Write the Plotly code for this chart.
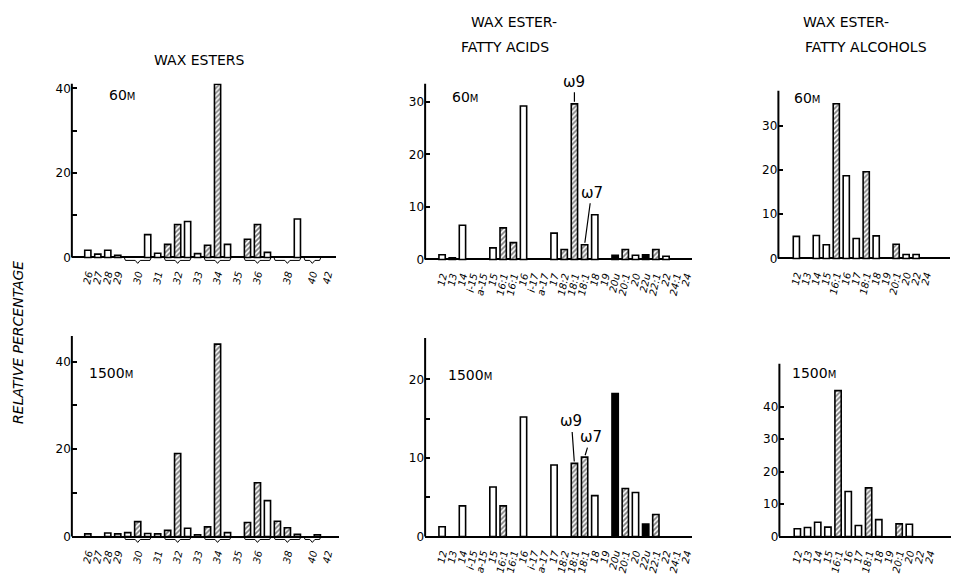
import plotly.graph_objects as go

W, H = 972, 574
FONT = "DejaVu Sans"

# ---------------- data ----------------
# Wax esters (carbon number, isomer slots within a group)
we_slots = ["26", "27", "28", "29", "30", "30", "30", "31", "32", "32", "32", "33",
            "34", "34", "34", "35", "36", "36", "36", "38", "38", "38", "40", "40", "42"]
we_kind = ["o", "o", "o", "o", "o", "h", "o", "o", "h", "h", "o", "o",
           "h", "h", "o", "o", "h", "h", "o", "h", "h", "o", "o", "o", "o"]
we_60 = [1.7, 0.8, 1.7, 0.5, None, None, 5.4, 1.0, 3.1, 7.8, 8.5, 0.9,
         2.9, 41.0, 3.1, None, 4.3, 7.8, 1.2, None, None, 9.1, None, None, None]
we_1500 = [0.6, None, 0.8, 0.6, 0.9, 3.4, 0.7, 0.6, 1.4, 19.0, 1.9, 0.4,
           2.2, 44.0, 0.9, None, 3.2, 12.3, 8.2, 3.5, 2.0, 0.5, None, 0.4, None]

# Wax ester fatty acids
fa_slots = ["12", "13", "14", "i-15", "a-15", "15", "16:1", "16:1", "16", "i-17", "a-17", "17",
            "18:2", "18:1", "18:1", "18", "19", "20u", "20:1", "20", "22u", "22:1", "22", "24:1", "24"]
fa_kind = ["o", "o", "o", "o", "o", "o", "h", "h", "o", "o", "o", "o",
           "h", "h", "h", "o", "o", "s", "h", "o", "s", "h", "o", "h", "o"]
fa_60 = [0.9, 0.3, 6.5, None, None, 2.2, 6.0, 3.2, 29.2, None, None, 5.0,
         1.9, 29.6, 2.8, 8.5, None, 0.8, 1.9, 0.8, 0.9, 1.9, 0.6, None, None]
fa_1500 = [1.25, None, 3.9, None, None, 6.3, 3.9, None, 15.2, None, None, 9.1,
           None, 9.3, 10.1, 5.2, None, 18.2, 6.1, 5.6, 1.6, 2.8, None, None, None]

# Wax ester fatty alcohols
fal_slots = ["12", "13", "14", "15", "16:1", "16", "17", "18:1", "18", "19", "20:1", "20", "22", "24"]
fal_kind = ["o", "o", "o", "o", "h", "o", "o", "h", "o", "o", "h", "o", "o", "o"]
fal_60 = [5.0, None, 5.2, 3.1, 35.0, 18.7, 4.5, 19.6, 5.1, None, 3.2, 0.9, 0.9, None]
fal_1500 = [2.4, 2.8, 4.4, 2.9, 45.0, 13.9, 3.4, 15.0, 5.2, None, 3.9, 3.8, None, None]

# y tick definitions (value, label)
yt_we = ([0, 10, 20, 30, 40], ["0", "", "20", "", "40"])
yt_fa60 = ([0, 10, 20, 30], ["0", "10", "20", "30"])
yt_fa1500 = ([0, 5, 10, 15, 20], ["0", "", "10", "", "20"])
yt_fal60 = ([0, 10, 20, 30], ["0", "10", "20", "30"])
yt_fal1500 = ([0, 10, 20, 30, 40], ["0", "10", "20", "30", "40"])

# ---------------- panel geometry (pixels) ----------------
panels = [
    dict(slots=we_slots, kind=we_kind, vals=we_60, yt=yt_we, label="60", ax=72, x0=88, dx=10,
         xe=337, base=260, ppu=4.3, top=83, brace=True, lab=(107, 95)),
    dict(slots=we_slots, kind=we_kind, vals=we_1500, yt=yt_we, label="1500", ax=72, x0=88, dx=10,
         xe=340, base=544, ppu=4.45, top=340, brace=True, lab=(87, 378)),
    dict(slots=fa_slots, kind=fa_kind, vals=fa_60, yt=yt_fa60, label="60", ax=426, x0=443, dx=10.2,
         xe=693, base=262, ppu=5.35, top=83, brace=False, lab=(451, 97)),
    dict(slots=fa_slots, kind=fa_kind, vals=fa_1500, yt=yt_fa1500, label="1500", ax=426, x0=443, dx=10.2,
         xe=693, base=544, ppu=8.0, top=342, brace=False, lab=(447, 380)),
    dict(slots=fal_slots, kind=fal_kind, vals=fal_60, yt=yt_fal60, label="60", ax=780, x0=798, dx=10,
         xe=952, base=261, ppu=4.5, top=90, brace=False, lab=(794, 98)),
    dict(slots=fal_slots, kind=fal_kind, vals=fal_1500, yt=yt_fal1500, label="1500", ax=781, x0=799, dx=10.2,
         xe=953, base=544, ppu=3.3, top=368, brace=False, lab=(792, 378)),
]

PAD = 8  # px below the baseline inside plot area (for braces)

fig = go.Figure()
layout = dict(
    width=W, height=H, margin=dict(l=0, r=0, t=0, b=0),
    paper_bgcolor="white", plot_bgcolor="white", showlegend=False,
    barmode="overlay", font=dict(family=FONT, color="black"),
)
shapes = []
annotations = []

styles = {
    "o": dict(color="white", line=dict(color="black", width=1.6)),
    "h": dict(color="white", line=dict(color="black", width=1.6),
              pattern=dict(shape="/", fgcolor="black", bgcolor="white", size=3.5, solidity=0.5)),
    "s": dict(color="black", line=dict(color="black", width=1.6)),
}

for i, p in enumerate(panels):
    n = i + 1
    xa = "x" if n == 1 else f"x{n}"
    ya = "y" if n == 1 else f"y{n}"
    xkey = "xaxis" if n == 1 else f"xaxis{n}"
    ykey = "yaxis" if n == 1 else f"yaxis{n}"
    idx = list(range(len(p["slots"])))

    for k in ["o", "h", "s"]:
        yv = [v if kk == k else None for v, kk in zip(p["vals"], p["kind"])]
        if all(v is None for v in yv):
            continue
        fig.add_trace(go.Bar(x=idx, y=yv, width=0.62, marker=styles[k],
                             xaxis=xa, yaxis=ya, hoverinfo="skip"))

    if p["brace"]:
        tv, tt = [], []
        for lab in dict.fromkeys(p["slots"]):
            pos = [j for j, s in enumerate(p["slots"]) if s == lab]
            tv.append(sum(pos) / len(pos))
            tt.append(lab)
    else:
        tv, tt = idx, p["slots"]

    xr = [(p["ax"] - p["x0"]) / p["dx"], (p["xe"] - p["x0"]) / p["dx"]]
    yr = [-PAD / p["ppu"], (p["base"] - p["top"]) / p["ppu"]]
    layout[xkey] = dict(domain=[p["ax"] / W, p["xe"] / W], range=xr, anchor=ya,
                        showline=False, showgrid=False, zeroline=False, ticks="",
                        tickmode="array", tickvals=tv, ticktext=tt, tickangle=-78,
                        tickfont=dict(family=FONT, size=10, style="italic", color="black"),
                        fixedrange=True)
    layout[ykey] = dict(domain=[1 - (p["base"] + PAD) / H, 1 - p["top"] / H], range=yr, anchor=xa,
                        showline=False, showgrid=False, zeroline=True, zerolinecolor="black",
                        zerolinewidth=2, ticks="inside", ticklen=5, tickwidth=1.5, tickcolor="black",
                        tickmode="array", tickvals=p["yt"][0], ticktext=p["yt"][1],
                        tickfont=dict(family=FONT, size=12, color="black"), fixedrange=True)
    shapes.append(dict(type="line", xref="paper", yref=ya, x0=p["ax"] / W, x1=p["ax"] / W,
                       y0=0, y1=yr[1], line=dict(color="black", width=2)))

    if p["brace"]:
        d1 = 3 / p["ppu"]
        d2 = 6 / p["ppu"]
        for lab in dict.fromkeys(p["slots"]):
            pos = [j for j, s in enumerate(p["slots"]) if s == lab]
            if len(pos) < 2:
                continue
            a, b = pos[0] - 0.35, pos[-1] + 0.35
            m = (a + b) / 2
            fig.add_trace(go.Scatter(
                x=[a, a + 0.12, m - 0.25, m, m + 0.25, b - 0.12, b],
                y=[0, -d1, -d1, -d2, -d1, -d1, 0],
                mode="lines", line=dict(color="black", width=1),
                xaxis=xa, yaxis=ya, hoverinfo="skip"))

    annotations.append(dict(
        xref="paper", yref="paper", x=p["lab"][0] / W, y=1 - p["lab"][1] / H,
        xanchor="left", yanchor="middle", showarrow=False,
        text=p["label"] + "<span style='font-size:10px'>M</span>",
        font=dict(family=FONT, size=14, color="black")))

# omega labels on fatty-acid panels
om = [
    ("x3", "y3", 13, fa_60[13], "\u03c99", 0, -22),
    ("x3", "y3", 14, fa_60[14], "\u03c97", 7, -52),
    ("x4", "y4", 13, fa_1500[13], "\u03c99", -3, -42),
    ("x4", "y4", 14, fa_1500[14], "\u03c97", 6, -20),
]
for xa, ya, xi, yv, txt, axo, ayo in om:
    annotations.append(dict(xref=xa, yref=ya, x=xi, y=yv, text=txt, showarrow=True,
                            arrowhead=0, arrowwidth=1.2, arrowcolor="black", ax=axo, ay=ayo,
                            standoff=2, font=dict(family=FONT, size=15, color="black")))

# column titles
titles = [
    ("WAX ESTERS", 200, 59),
    ("WAX ESTER-", 515, 20),
    ("FATTY ACIDS", 506, 46),
    ("WAX ESTER-", 848, 20),
    ("FATTY ALCOHOLS", 868, 46),
]
for t, x, y in titles:
    annotations.append(dict(xref="paper", yref="paper", x=x / W, y=1 - y / H, text=t,
                            showarrow=False, xanchor="center", yanchor="middle",
                            font=dict(family=FONT, size=14, color="black")))

annotations.append(dict(xref="paper", yref="paper", x=18 / W, y=1 - 346 / H,
                        text="RELATIVE PERCENTAGE", textangle=-90, showarrow=False,
                        xanchor="center", yanchor="middle",
                        font=dict(family=FONT, size=14, style="italic", color="black")))

layout["shapes"] = shapes
layout["annotations"] = annotations
fig.update_layout(**layout)
fig.write_html("out.html")
